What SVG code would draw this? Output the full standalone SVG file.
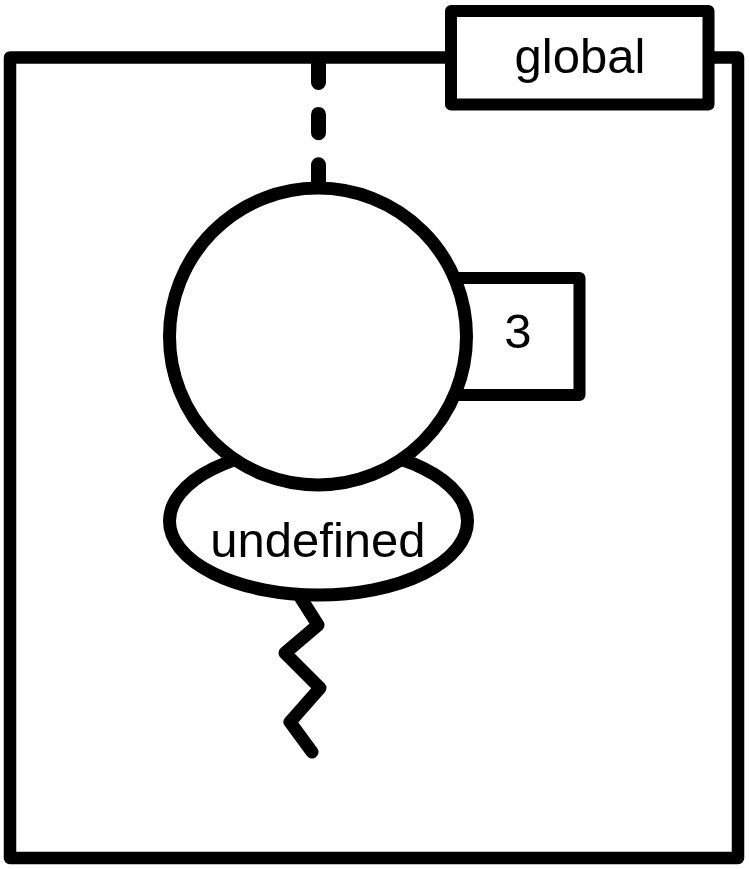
<svg xmlns="http://www.w3.org/2000/svg" width="749" height="869" viewBox="0 0 749 869">
  <style>
    .shape { fill: #ffffff; stroke: #000000; stroke-linejoin: round; }
    .lbl { font-family: "Liberation Sans", Arial, sans-serif; font-size: 49px; fill: #000000; text-anchor: middle; }
    .conn { fill: none; stroke: #000000; stroke-linecap: round; stroke-linejoin: round; }
  </style>
  <rect width="749" height="869" fill="#ffffff"/>
  <g id="frame">
    <rect class="shape" x="10" y="57.5" width="728" height="800.5" stroke-width="12.5"/>
  </g>
  <g id="global">
    <rect class="shape" x="451" y="11" width="257.5" height="93.5" stroke-width="12"/>
    <text class="lbl" x="580" y="73">global</text>
  </g>
  <g id="connectors">
    <line class="conn" x1="318.5" y1="64" x2="318.5" y2="182" stroke-width="15" stroke-dasharray="18.4 32"/>
    <polyline class="conn" points="297,592 318,625 285,653 320,688 290,722 312,752" stroke-width="13"/>
  </g>
  <g id="value">
    <rect class="shape" x="440" y="278" width="139.5" height="117" stroke-width="12"/>
    <text class="lbl" x="518" y="348">3</text>
  </g>
  <g id="undefined">
    <ellipse class="shape" cx="318.5" cy="521" rx="149" ry="74" stroke-width="13"/>
  </g>
  <g id="object">
    <circle class="shape" cx="318" cy="336.5" r="148.5" stroke-width="13"/>
  </g>
  <text class="lbl" x="318" y="557">undefined</text>
</svg>
